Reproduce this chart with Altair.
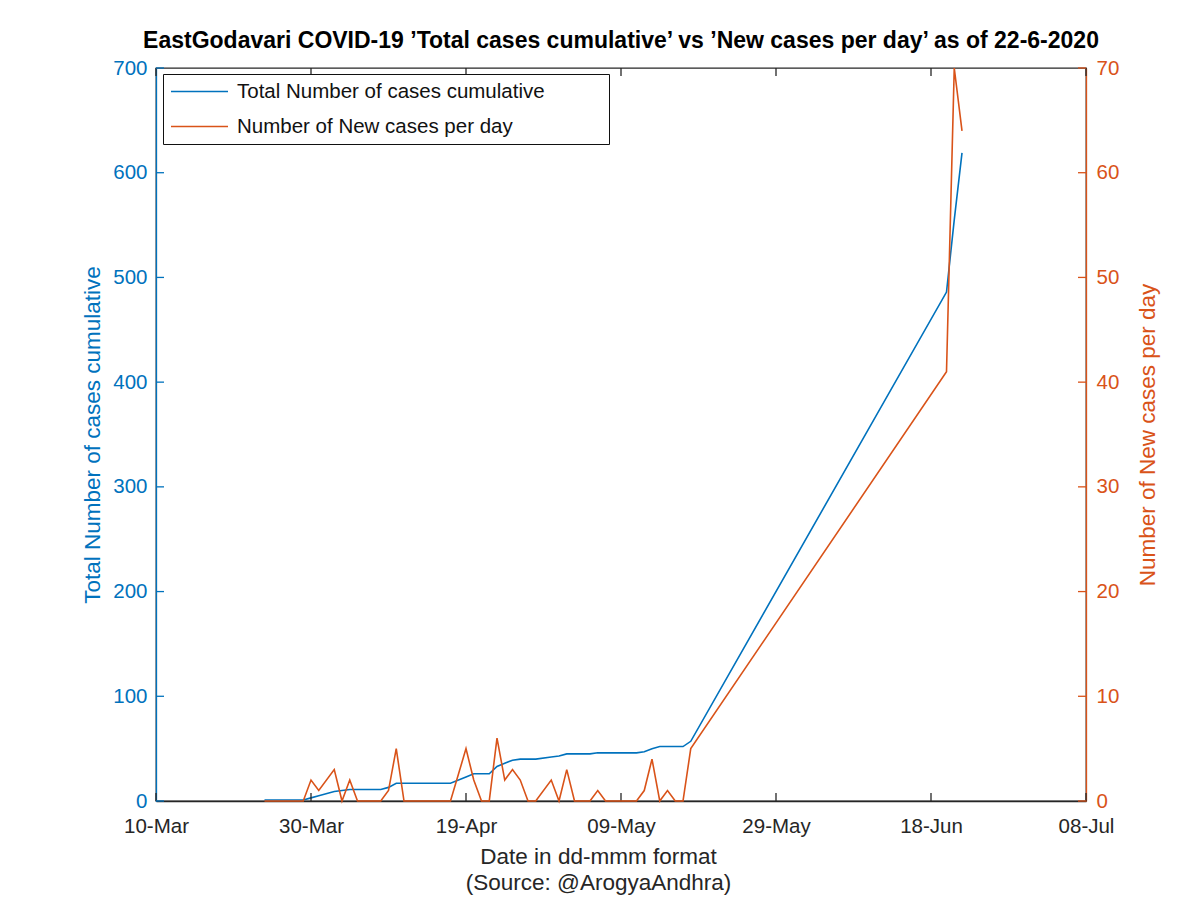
import altair as alt
import pandas as pd

# ---------------- data ----------------
dates = [
    "2020-03-24", "2020-03-25", "2020-03-26", "2020-03-27", "2020-03-28",
    "2020-03-29", "2020-03-30", "2020-03-31", "2020-04-02", "2020-04-03",
    "2020-04-04", "2020-04-05", "2020-04-06", "2020-04-07", "2020-04-08",
    "2020-04-09", "2020-04-10", "2020-04-11", "2020-04-12", "2020-04-13",
    "2020-04-14", "2020-04-15", "2020-04-16", "2020-04-17", "2020-04-19",
    "2020-04-20", "2020-04-21", "2020-04-22", "2020-04-23", "2020-04-24",
    "2020-04-25", "2020-04-26", "2020-04-27", "2020-04-28", "2020-04-30",
    "2020-05-01", "2020-05-02", "2020-05-03", "2020-05-04", "2020-05-05",
    "2020-05-06", "2020-05-07", "2020-05-08", "2020-05-09", "2020-05-10",
    "2020-05-11", "2020-05-12", "2020-05-13", "2020-05-14", "2020-05-15",
    "2020-05-16", "2020-05-17", "2020-05-18", "2020-06-20", "2020-06-21",
    "2020-06-22",
]
total_cumulative = [
    1, 1, 1, 1, 1,
    1, 3, 5, 9, 10,
    11, 11, 11, 11, 11,
    13, 17, 17, 17, 17,
    17, 17, 17, 17, 23,
    26, 26, 26, 33, 36,
    39, 40, 40, 40, 42,
    43, 45, 45, 45, 45,
    46, 46, 46, 46, 46,
    46, 47, 50, 52, 52,
    52, 52, 57, 486, 555,
    619,
]
new_per_day = [
    0, 0, 0, 0, 0,
    0, 2, 1, 3, 0,
    2, 0, 0, 0, 0,
    1, 5, 0, 0, 0,
    0, 0, 0, 0, 5,
    2, 0, 0, 6, 2,
    3, 2, 0, 0, 2,
    0, 3, 0, 0, 0,
    1, 0, 0, 0, 0,
    0, 1, 4, 0, 1,
    0, 0, 5, 41, 70,
    64,
]

x_tick_dates = ["2020-03-10", "2020-03-30", "2020-04-19", "2020-05-09",
                "2020-05-29", "2020-06-18", "2020-07-08"]
left_ticks = [0, 100, 200, 300, 400, 500, 600, 700]
right_ticks = [0, 10, 20, 30, 40, 50, 60, 70]
legend_labels = ["Total Number of cases cumulative", "Number of New cases per day"]

title_text = "EastGodavari COVID-19 \u2019Total cases cumulative\u2019 vs \u2019New cases per day\u2019 as of 22-6-2020"
left_title = "Total Number of cases cumulative"
right_title = "Number of New cases per day"
x_title = ["Date in dd-mmm format", "(Source: @ArogyaAndhra)"]

# ---------------- styling ----------------
BLUE = "#0072BD"
ORANGE = "#D95319"
DARK = "#262626"
FONT = "Liberation Sans"
W, H = 930, 733
TICK = 8

df = pd.DataFrame({"date": dates, "total": total_cumulative, "new": new_per_day})
xt = pd.DataFrame({"d": x_tick_dates})
lt = pd.DataFrame({"v": left_ticks})
rt = pd.DataFrame({"v": right_ticks})


def dt(s):
    y, m, d = map(int, s.split("-"))
    return alt.DateTime(year=y, month=m, date=d, utc=True)


x_scale = alt.Scale(type="utc", domain=[dt(x_tick_dates[0]), dt(x_tick_dates[-1])])
yl_scale = alt.Scale(domain=[left_ticks[0], left_ticks[-1]], nice=False)
yr_scale = alt.Scale(domain=[right_ticks[0], right_ticks[-1]], nice=False)
color_scale = alt.Scale(domain=legend_labels, range=[BLUE, ORANGE])

x_axis = alt.Axis(
    orient="bottom", values=[dt(s) for s in x_tick_dates], format="%d-%b",
    ticks=False, labelPadding=15, labelFlush=False, labelOverlap=False,
    labelFont=FONT, labelFontSize=20.5, labelColor=DARK,
    domainColor=DARK, domainWidth=1.3, grid=False,
    title=x_title, titleFont=FONT, titleFontSize=22.5, titleFontWeight="normal",
    titleColor=DARK, titleX=442, titleY=44, titleBaseline="top",
    titleAlign="center", titleLineHeight=26,
)
yl_axis = alt.Axis(
    orient="left", values=left_ticks, ticks=False, labelPadding=9,
    labelFont=FONT, labelFontSize=20.5, labelColor=BLUE,
    domainColor=BLUE, domainWidth=1.3, grid=False,
    title=left_title, titleFont=FONT, titleFontSize=22.5, titleFontWeight="normal",
    titleColor=BLUE, titlePadding=8,
)
yr_axis = alt.Axis(
    orient="right", values=right_ticks, ticks=False, labelPadding=10,
    labelFont=FONT, labelFontSize=20.5, labelColor=ORANGE,
    domainColor=ORANGE, domainWidth=1.3, grid=False,
    title=right_title, titleFont=FONT, titleFontSize=22.5, titleFontWeight="normal",
    titleColor=ORANGE, titlePadding=18, titleAngle=270, titleBaseline="top",
)

legend = alt.Legend(
    orient="none", legendX=7, legendY=6,
    # an invisible title on the right only widens the box like MATLAB's legend
    title=".", titleOrient="right", titleFontSize=1, titleColor="rgba(0,0,0,0)",
    titlePadding=56,
    symbolType="M-1,0H5", symbolSize=361, symbolStrokeWidth=1.6,
    labelFont=FONT, labelFontSize=20.5, labelColor="#111111", labelOffset=46,
    labelLimit=0, rowPadding=14, padding=7,
    strokeColor="#111111", fillColor="white",
)

blue_line = alt.Chart(df).transform_calculate(
    series="'" + legend_labels[0] + "'"
).mark_line(strokeWidth=1.6).encode(
    x=alt.X("date:T", scale=x_scale, axis=x_axis),
    y=alt.Y("total:Q", scale=yl_scale, axis=yl_axis),
    color=alt.Color("series:N", scale=color_scale, legend=legend),
)
orange_line = alt.Chart(df).transform_calculate(
    series="'" + legend_labels[1] + "'"
).mark_line(strokeWidth=1.6).encode(
    x=alt.X("date:T", scale=x_scale, axis=x_axis),
    y=alt.Y("new:Q", scale=yr_scale, axis=yr_axis),
    color=alt.Color("series:N", scale=color_scale, legend=legend),
)

# inward tick marks (MATLAB style)
x_ticks_bottom = alt.Chart(xt).mark_rule(color=DARK, strokeWidth=1.3).encode(
    x=alt.X("d:T", scale=x_scale, axis=x_axis),
    y=alt.value(H - TICK), y2=alt.value(H),
)
x_ticks_top = alt.Chart(xt).mark_rule(color=DARK, strokeWidth=1.3).encode(
    x=alt.X("d:T", scale=x_scale, axis=x_axis),
    y=alt.value(0), y2=alt.value(TICK),
)
left_tick_marks = alt.Chart(lt).mark_rule(color=BLUE, strokeWidth=1.3).encode(
    y=alt.Y("v:Q", scale=yl_scale, axis=yl_axis),
    x=alt.value(0), x2=alt.value(TICK),
)
right_tick_marks = alt.Chart(rt).mark_rule(color=ORANGE, strokeWidth=1.3).encode(
    y=alt.Y("v:Q", scale=yr_scale, axis=yr_axis),
    x=alt.value(W - TICK), x2=alt.value(W),
)

left_layer = alt.layer(blue_line, x_ticks_bottom, x_ticks_top, left_tick_marks)
right_layer = alt.layer(orange_line, right_tick_marks)

chart = (
    alt.layer(left_layer, right_layer)
    .resolve_scale(y="independent")
    .properties(
        width=W, height=H,
        title=alt.TitleParams(
            text=title_text, font=FONT, fontSize=23, fontWeight="bold",
            color="black", anchor="middle", offset=5,
        ),
        autosize=alt.AutoSizeParams(type="none"),
        padding={"left": 148, "top": 60, "right": 100, "bottom": 96},
        background="white",
    )
    .configure_view(stroke=DARK, strokeWidth=1.3)
)

chart.save("out.html", embed_options={"renderer": "svg", "actions": False})
